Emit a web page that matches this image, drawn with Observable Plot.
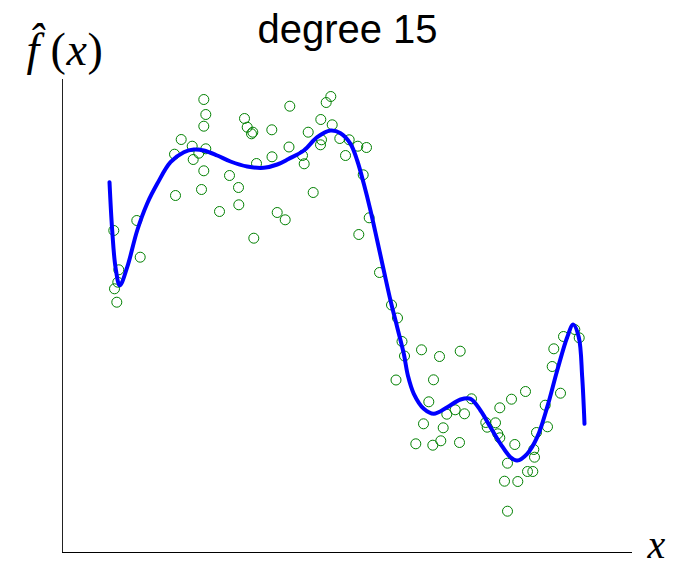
<!DOCTYPE html>
<html>
<head>
<meta charset="utf-8">
<script src="https://cdn.jsdelivr.net/npm/d3@7"></script>
<script src="https://cdn.jsdelivr.net/npm/@observablehq/plot@0.6"></script>
<style>
  html, body { margin: 0; padding: 0; background: #fff; }
</style>
</head>
<body>
<div id="chart"></div>
<script>
// Noisy samples (x, y)
const sampleX = [1.413,1.433,1.413,1.82,1.847,1.903,1.89,2.093,2.273,2.265,
  1.187,1.12,1.297,1.307,1.433,1.363,1.413,1.39,1.67,1.76,
  1.763,1.57,1.13,1.94,2.095,2.147,2.227,1.913,0.743,0.513,
  0.777,0.563,0.553,0.52,0.543,2.683,2.637,2.583,2.697,2.457,
  2.59,2.58,2.773,2.867,2.83,2.953,3.04,2.40,2.417,2.507,
  3.007,3.067,2.963,3.17,3.29,3.35,3.395,3.42,3.59,3.335,
  3.77,3.977,3.71,3.663,3.843,3.927,4.02,4.09,3.61,3.807,
  3.783,3.703,3.533,3.97,4.373,4.49,4.63,4.233,4.247,4.33,
  4.353,4.373,4.523,4.45,4.42,4.553,4.65,4.703,4.72,4.713,
  4.74,4.827,4.85,4.98,4.897,4.913,5.01,5.123,5.167,4.45];
const sampleY = [4.53,4.38,4.263,4.34,4.253,4.203,4.187,4.227,4.463,4.055,
  4.13,3.983,4.063,3.93,4.037,3.993,3.817,3.63,3.77,3.65,
  3.477,3.41,3.57,3.89,3.957,3.40,3.327,3.143,3.32,3.22,
  2.953,2.827,2.703,2.637,2.503,4.56,4.50,4.33,4.277,4.203,
  4.127,4.077,4.14,4.127,3.97,4.063,4.05,3.97,3.887,3.60,
  3.777,3.347,3.18,2.80,2.475,2.345,2.11,1.965,2.027,1.725,
  1.96,2.013,1.727,1.507,1.383,1.427,1.387,1.537,1.287,1.247,
  1.117,1.073,1.087,1.10,1.447,1.533,1.61,1.30,1.253,1.297,
  1.187,1.147,1.08,0.893,0.713,0.71,0.81,0.81,0.953,1.03,
  1.20,1.473,1.257,1.593,1.86,2.037,2.16,2.23,2.147,0.413];

// Degree-15 polynomial fit
const fitX = [0.47,0.497,0.53,0.573,0.647,0.747,0.847,0.947,1.08,1.213,
  1.313,1.413,1.547,1.68,1.847,2.013,2.147,2.26,2.413,2.547,
  2.68,2.78,2.88,2.947,3.013,3.08,3.147,3.213,3.28,3.347,
  3.413,3.455,3.513,3.613,3.713,3.847,3.98,4.08,4.18,4.28,
  4.38,4.48,4.547,4.647,4.747,4.847,4.947,5.047,5.107,5.163,
  5.197,5.22];
const fitY = [3.703,3.22,2.853,2.67,2.853,3.22,3.49,3.687,3.903,4.003,
  4.03,4.02,3.97,3.91,3.86,3.847,3.88,3.935,4.02,4.153,
  4.22,4.193,4.087,3.92,3.687,3.42,3.12,2.82,2.52,2.253,
  1.987,1.765,1.587,1.437,1.387,1.453,1.53,1.537,1.42,1.253,
  1.087,0.953,0.92,0.987,1.153,1.453,1.82,2.153,2.28,2.153,
  1.753,1.287];

const titleText = "degree 15";
// y label f̂(x): pieces with math styling (italic letters, upright parens)
const yLabelParts = ["f\u0302", "(", "x", ")"];
const yLabelItalic = [true, false, true, false];
const xLabel = "x";

const samples = sampleX.map((x, i) => ({x, y: sampleY[i]}));
const fit = fitX.map((x, i) => ({x, y: fitY[i]}));

const serif = "'Liberation Serif', 'DejaVu Serif', serif";
const partOffsets = [-36, -12, 4, 25]; // dx from the frame's left edge
const yLabelMarks = yLabelParts.map((t, i) =>
  Plot.text([t], {frameAnchor: "top-left", dx: partOffsets[i], dy: -15, lineAnchor: "bottom",
    textAnchor: "start", text: d => d, fontSize: 46,
    fontStyle: yLabelItalic[i] ? "italic" : "normal", fontFamily: serif, fill: "#000"}));

const chart = Plot.plot({
  width: 675,
  height: 566,
  marginLeft: 62,
  marginRight: 43,
  marginTop: 79,
  marginBottom: 14,
  x: {domain: [0, 5.7], axis: null},
  y: {domain: [0, 4.73], axis: null},
  style: {background: "#fff", overflow: "visible"},
  marks: [
    Plot.ruleX([0], {stroke: "#222", strokeWidth: 1}),
    Plot.ruleY([0], {stroke: "#000", strokeWidth: 1}),
    Plot.dot(samples, {x: "x", y: "y", r: 5, stroke: "#008000", strokeWidth: 1, fill: "none"}),
    Plot.line(fit, {x: "x", y: "y", stroke: "#0000ff", strokeWidth: 4, curve: "catmull-rom"}),
    Plot.text([titleText], {frameAnchor: "top", dy: -37, lineAnchor: "bottom", text: d => d,
      fontSize: 40, fontFamily: "'Liberation Sans', Arial, Helvetica, sans-serif", fill: "#000"}),
    ...yLabelMarks,
    Plot.text([xLabel], {frameAnchor: "bottom-right", dx: 15, dy: 5, lineAnchor: "bottom", textAnchor: "start", text: d => d,
      fontSize: 40, fontStyle: "italic", fontFamily: serif, fill: "#000"})
  ]
});
document.getElementById("chart").appendChild(chart);
</script>
</body>
</html>
